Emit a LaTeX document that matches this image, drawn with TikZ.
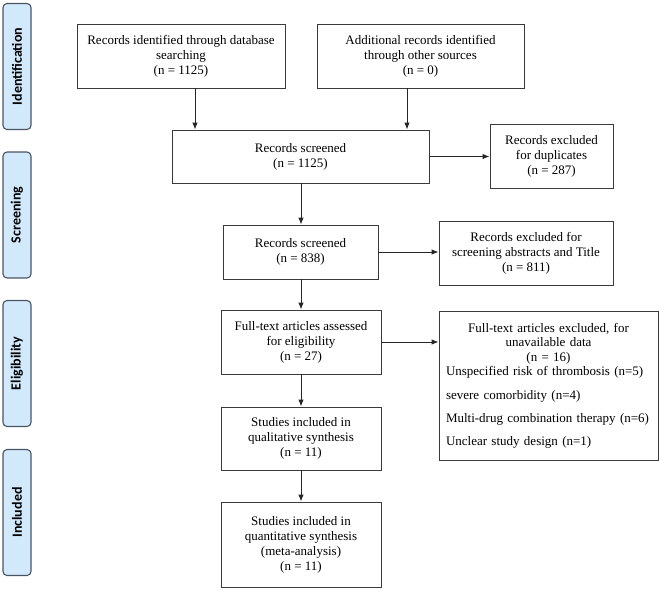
\documentclass[tikz,border=0pt]{standalone}
\usepackage{fontspec}
\setmainfont{Liberation Serif}
\newfontfamily\labfont{Carlito}
\usetikzlibrary{arrows.meta,calc}
\definecolor{labfill}{HTML}{D2E9FB}
\definecolor{labline}{HTML}{4A5563}
\definecolor{boxline}{HTML}{3A3A3A}
\begin{document}
\begin{tikzpicture}[x=1pt,y=-1pt,
  box/.style={draw=boxline,line width=0.9pt,align=center,inner sep=2pt,
    font=\fontsize{13}{15}\selectfont},
  side/.style={draw=labline,fill=labfill,line width=1.1pt,rounded corners=4pt,
    minimum width=126pt,minimum height=28pt,inner sep=0pt,rotate=90,
    font=\labfont\bfseries\fontsize{14}{16}\selectfont},
  arr/.style={draw=black!85,line width=0.9pt,-{Latex[length=7pt,width=5.5pt]}}]
\useasboundingbox (0,0) rectangle (661,590);
% side labels
\node[side] (sid) at (17,66.5) {Identification};
\node[side] (sscr) at (17,215) {Screening};
\node[side] (self) at (17,363.5) {Eligibility};
\node[side] (sinc) at (17,512.5) {Included};
% boxes
\node[box,minimum width=208pt,minimum height=64pt] (b1) at (181,56)
  {Records identified through database\\searching\\(n = 1125)};
\node[box,minimum width=207pt,minimum height=64pt] (b2) at (420.5,56)
  {Additional records identified\\through other sources\\(n = 0)};
\node[box,minimum width=257pt,minimum height=53pt] (b3) at (300.5,156.5)
  {Records screened\\(n = 1125)};
\node[box,minimum width=123pt,minimum height=64pt] (b4) at (551.5,156)
  {Records excluded\\for duplicates\\(n = 287)};
\node[box,minimum width=155pt,minimum height=54pt] (b5) at (300.5,252)
  {Records screened\\(n = 838)};
\node[box,minimum width=174pt,minimum height=64pt] (b6) at (526,253)
  {Records excluded for\\screening abstracts and Title\\(n = 811)};
\node[box,minimum width=160pt,minimum height=64pt] (b7) at (301,342)
  {Full-text articles assessed\\for eligibility\\(n = 27)};
\node[box,minimum width=219pt,minimum height=149pt,align=left,text width=205pt,
  font=\fontsize{13}{14.6}\selectfont] (b8) at (548.5,385.5)
  {{\centering Full-text articles excluded, for\\unavailable data\\(n = 16)\par}
   Unspecified risk of thrombosis (n=5)\\[8.5pt]
   severe comorbidity (n=4)\\[8.5pt]
   Multi-drug combination therapy (n=6)\\[8.5pt]
   Unclear study design (n=1)};
\node[box,minimum width=160pt,minimum height=63pt] (b9) at (301,438.5)
  {Studies included in\\qualitative synthesis\\(n = 11)};
\node[box,minimum width=160pt,minimum height=85pt] (b10) at (301,544.5)
  {Studies included in\\quantitative synthesis\\(meta-analysis)\\(n = 11)};
% connectors
\coordinate (c1) at (195,0);
\coordinate (c2) at (407,0);
\coordinate (c3) at (301,0);
\draw[arr] (b1.south -| c1) -- (b3.north -| c1);
\draw[arr] (b2.south -| c2) -- (b3.north -| c2);
\draw[arr] (b3.east) -- (b4.west |- b3.east);
\draw[arr] (b3.south -| c3) -- (b5.north -| c3);
\draw[arr] (b5.east) -- (b6.west |- b5.east);
\draw[arr] (b5.south -| c3) -- (b7.north -| c3);
\draw[arr] (b7.east) -- (b8.west |- b7.east);
\draw[arr] (b7.south) -- (b9.north);
\draw[arr] (b9.south) -- (b10.north);
\end{tikzpicture}
\end{document}
